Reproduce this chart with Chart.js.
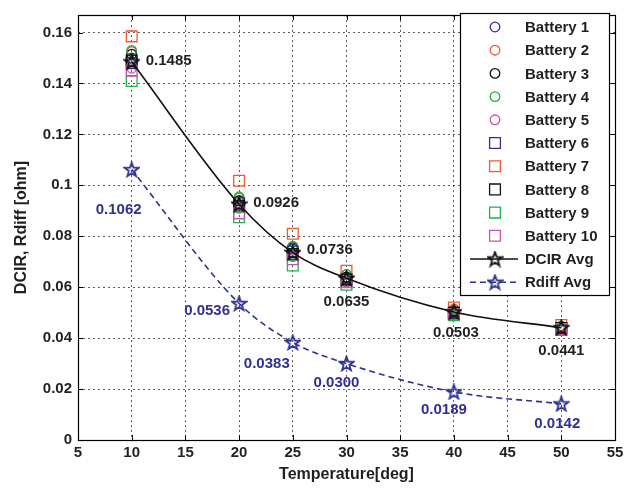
<!DOCTYPE html>
<html>
<head>
<meta charset="utf-8">
<script src="https://cdn.jsdelivr.net/npm/chart.js@4.4.1/dist/chart.umd.min.js"></script>
<style>
html, body { margin: 0; padding: 0; background: #fff; }
</style>
</head>
<body>
<canvas id="chart" width="638" height="488"></canvas>
<script>
// temperatures [deg]
temps = [10, 20, 25, 30, 40, 50]

// per battery DC internal resistance [ohm]
battery1  = [0.1500, 0.0940, 0.0750, 0.0640, 0.0505, 0.0445]
battery2  = [0.1525, 0.0950, 0.0760, 0.0650, 0.0515, 0.0448]
battery3  = [0.1515, 0.0940, 0.0755, 0.0640, 0.0505, 0.0443]
battery4  = [0.1530, 0.0955, 0.0760, 0.0650, 0.0510, 0.0445]
battery5  = [0.1460, 0.0910, 0.0720, 0.0620, 0.0495, 0.0437]
battery6  = [0.1480, 0.0930, 0.0740, 0.0630, 0.0500, 0.0440]
battery7  = [0.1585, 0.1018, 0.0810, 0.0665, 0.0520, 0.0452]
battery8  = [0.1490, 0.0920, 0.0730, 0.0630, 0.0500, 0.0440]
battery9  = [0.1410, 0.0875, 0.0685, 0.0610, 0.0490, 0.0432]
battery10 = [0.1450, 0.0890, 0.0710, 0.0620, 0.0495, 0.0436]

dcir_avg  = [0.1485, 0.0926, 0.0736, 0.0635, 0.0503, 0.0441]
rdiff_avg = [0.1062, 0.0536, 0.0383, 0.0300, 0.0189, 0.0142]

battery_names = ['Battery 1', 'Battery 2', 'Battery 3', 'Battery 4', 'Battery 5',
                 'Battery 6', 'Battery 7', 'Battery 8', 'Battery 9', 'Battery 10']
battery_values = [battery1, battery2, battery3, battery4, battery5,
                  battery6, battery7, battery8, battery9, battery10]

x_min = 5
x_max = 55
x_step = 5
y_min = 0
y_max = 0.1669
y_step = 0.02

BLUE = '#2e3192'
ORANGE = '#f15a29'
BLACK = '#111111'
GREEN = '#1fb24a'
MAGENTA = '#cc52b0'
battery_colors = [BLUE, ORANGE, BLACK, GREEN, MAGENTA, BLUE, ORANGE, BLACK, GREEN, MAGENTA]

FONT = "'Liberation Sans', Arial, Helvetica, sans-serif"

function make_star(color) {
    let size = 17
    let c = document.createElement('canvas')
    c.width = size
    c.height = size
    let g = c.getContext('2d')
    let r = size / 2 - 1, ri = r * 0.40, cx = size / 2, cy = size / 2 + 0.5
    g.beginPath()
    for (let k = 0; k < 10; k++) {
        let a = -Math.PI / 2 + k * Math.PI / 5
        let rr = k % 2 ? ri : r
        g.lineTo(cx + rr * Math.cos(a), cy + rr * Math.sin(a))
    }
    g.closePath()
    g.strokeStyle = color
    g.lineWidth = 1.8
    g.stroke()
    return c
}

black_star = make_star(BLACK)
blue_star = make_star(BLUE)

function to_points(values) {
    let pts = []
    for (let i = 0; i < temps.length; i++) {
        pts.push({x: temps[i], y: values[i]})
    }
    return pts
}

datasets = []
for (let i = 0; i < battery_values.length; i++) {
    datasets.push({
        label: battery_names[i],
        data: to_points(battery_values[i]),
        showLine: false,
        pointStyle: i < 5 ? 'circle' : 'rect',
        pointRadius: i < 5 ? 4.8 : 7.6,
        pointBorderWidth: 1.3,
        pointBorderColor: battery_colors[i],
        pointBackgroundColor: 'rgba(0,0,0,0)',
        borderColor: battery_colors[i],
        order: 20 - i
    })
}
datasets.push({
    label: 'DCIR Avg',
    data: to_points(dcir_avg),
    showLine: true,
    borderColor: BLACK,
    borderWidth: 1.6,
    cubicInterpolationMode: 'monotone',
    pointStyle: black_star,
    order: 2
})
datasets.push({
    label: 'Rdiff Avg',
    data: to_points(rdiff_avg),
    showLine: true,
    borderColor: BLUE,
    borderWidth: 1.6,
    borderDash: [6, 4],
    cubicInterpolationMode: 'monotone',
    pointStyle: blue_star,
    order: 1
})

// value labels next to the average curves
dcir_label_dx = [37, 37, 37, 0, 2, 0]
dcir_label_dy = [-1, -1, -3, 24, 21, 23]
rdiff_label_dx = [-13, -32, -26, -10, -10, -4]
rdiff_label_dy = [40, 7, 21, 19, 18, 20]

const value_labels = {
    id: 'value_labels',
    afterDatasetsDraw(chart) {
        let ctx = chart.ctx
        ctx.save()
        ctx.font = 'bold 15px ' + FONT
        ctx.textAlign = 'center'
        ctx.textBaseline = 'middle'
        let dcir_meta = chart.getDatasetMeta(10)
        let rdiff_meta = chart.getDatasetMeta(11)
        for (let i = 0; i < temps.length; i++) {
            let p = dcir_meta.data[i]
            ctx.fillStyle = '#231f20'
            ctx.fillText(dcir_avg[i].toFixed(4), p.x + dcir_label_dx[i], p.y + dcir_label_dy[i])
            let q = rdiff_meta.data[i]
            ctx.fillStyle = BLUE
            ctx.fillText(rdiff_avg[i].toFixed(4), q.x + rdiff_label_dx[i], q.y + rdiff_label_dy[i])
        }
        ctx.restore()
    }
}

// matlab style box with inner tick marks
const axes_box = {
    id: 'axes_box',
    afterDraw(chart) {
        let ctx = chart.ctx
        let a = chart.chartArea
        let xs = chart.scales.x, ys = chart.scales.y
        ctx.save()
        ctx.strokeStyle = '#000'
        ctx.lineWidth = 1
        ctx.beginPath()
        for (let v = x_min; v <= x_max; v += x_step) {
            let px = Math.round(xs.getPixelForValue(v)) + 0.5
            ctx.moveTo(px, a.bottom); ctx.lineTo(px, a.bottom - 5)
            ctx.moveTo(px, a.top); ctx.lineTo(px, a.top + 5)
        }
        for (let v = y_min; v <= 0.1601; v += y_step) {
            let py = Math.round(ys.getPixelForValue(v)) + 0.5
            ctx.moveTo(a.left, py); ctx.lineTo(a.left + 5, py)
            ctx.moveTo(a.right, py); ctx.lineTo(a.right - 5, py)
        }
        ctx.stroke()
        ctx.lineWidth = 1.2
        ctx.strokeRect(Math.round(a.left) + 0.5, Math.round(a.top) + 0.5,
                       Math.round(a.right - a.left), Math.round(a.bottom - a.top))
        ctx.restore()
    }
}

// legend box in the upper right corner
const box_legend = {
    id: 'box_legend',
    afterDraw(chart) {
        let ctx = chart.ctx
        let bx = 460, by = 13, bw = 149, bh = 282
        ctx.save()
        ctx.fillStyle = '#fff'
        ctx.fillRect(bx, by, bw, bh)
        ctx.strokeStyle = '#000'
        ctx.lineWidth = 1.2
        ctx.strokeRect(bx + 0.5, by + 0.5, bw, bh)
        ctx.font = 'bold 15px ' + FONT
        ctx.textBaseline = 'middle'
        ctx.textAlign = 'left'
        let ds = chart.data.datasets
        for (let i = 0; i < ds.length; i++) {
            let cy = by + 14 + i * 23.2
            let mx = bx + 35
            if (i < 10) {
                ctx.strokeStyle = battery_colors[i]
                ctx.lineWidth = 1.3
                ctx.beginPath()
                if (i < 5) ctx.arc(mx, cy, 4.8, 0, Math.PI * 2)
                else ctx.rect(mx - 5.4, cy - 5.4, 10.8, 10.8)
                ctx.stroke()
            } else {
                ctx.strokeStyle = ds[i].borderColor
                ctx.lineWidth = 1.6
                ctx.setLineDash(i == 11 ? [6, 4] : [])
                ctx.beginPath()
                ctx.moveTo(bx + 10, cy)
                ctx.lineTo(bx + 58, cy)
                ctx.stroke()
                ctx.setLineDash([])
                let img = ds[i].pointStyle
                ctx.drawImage(img, mx - img.width / 2, cy - img.height / 2)
            }
            ctx.fillStyle = '#231f20'
            ctx.fillText(ds[i].label, bx + 65, cy + 1)
        }
        ctx.restore()
    }
}

new Chart(
    document.getElementById('chart'),
    {
        type: 'scatter',
        data: { datasets: datasets },
        options: {
            responsive: false,
            animation: false,
            devicePixelRatio: 1,
            layout: { padding: { left: 0, right: 23, top: 7, bottom: 0 } },
            plugins: {
                legend: { display: false },
                tooltip: { enabled: false }
            },
            scales: {
                x: {
                    type: 'linear',
                    min: x_min,
                    max: x_max,
                    ticks: {
                        stepSize: x_step,
                        color: '#231f20',
                        font: { family: FONT, size: 15, weight: 'bold' },
                        padding: 4,
                        maxRotation: 0
                    },
                    grid: { color: '#333', lineWidth: 0.8, drawTicks: false },
                    border: { display: false, dash: [2, 3] },
                    title: {
                        display: true,
                        text: 'Temperature[deg]',
                        color: '#231f20',
                        font: { family: FONT, size: 16, weight: 'bold' },
                        padding: { top: 0, bottom: 4 }
                    },
                    afterFit(s) { s.height = 48 }
                },
                y: {
                    type: 'linear',
                    min: y_min,
                    max: y_max,
                    ticks: {
                        stepSize: y_step,
                        includeBounds: false,
                        color: '#231f20',
                        font: { family: FONT, size: 15, weight: 'bold' },
                        padding: 6,
                        callback: v => String(Math.round(v * 100) / 100)
                    },
                    grid: { color: '#333', lineWidth: 0.8, drawTicks: false },
                    border: { display: false, dash: [2, 3] },
                    title: {
                        display: true,
                        text: 'DCIR, Rdiff [ohm]',
                        color: '#231f20',
                        font: { family: FONT, size: 16, weight: 'bold' },
                        padding: { top: 12, bottom: 0 }
                    },
                    afterFit(s) { s.width = 78 }
                }
            }
        },
        plugins: [value_labels, axes_box, box_legend]
    }
);
</script>
</body>
</html>
